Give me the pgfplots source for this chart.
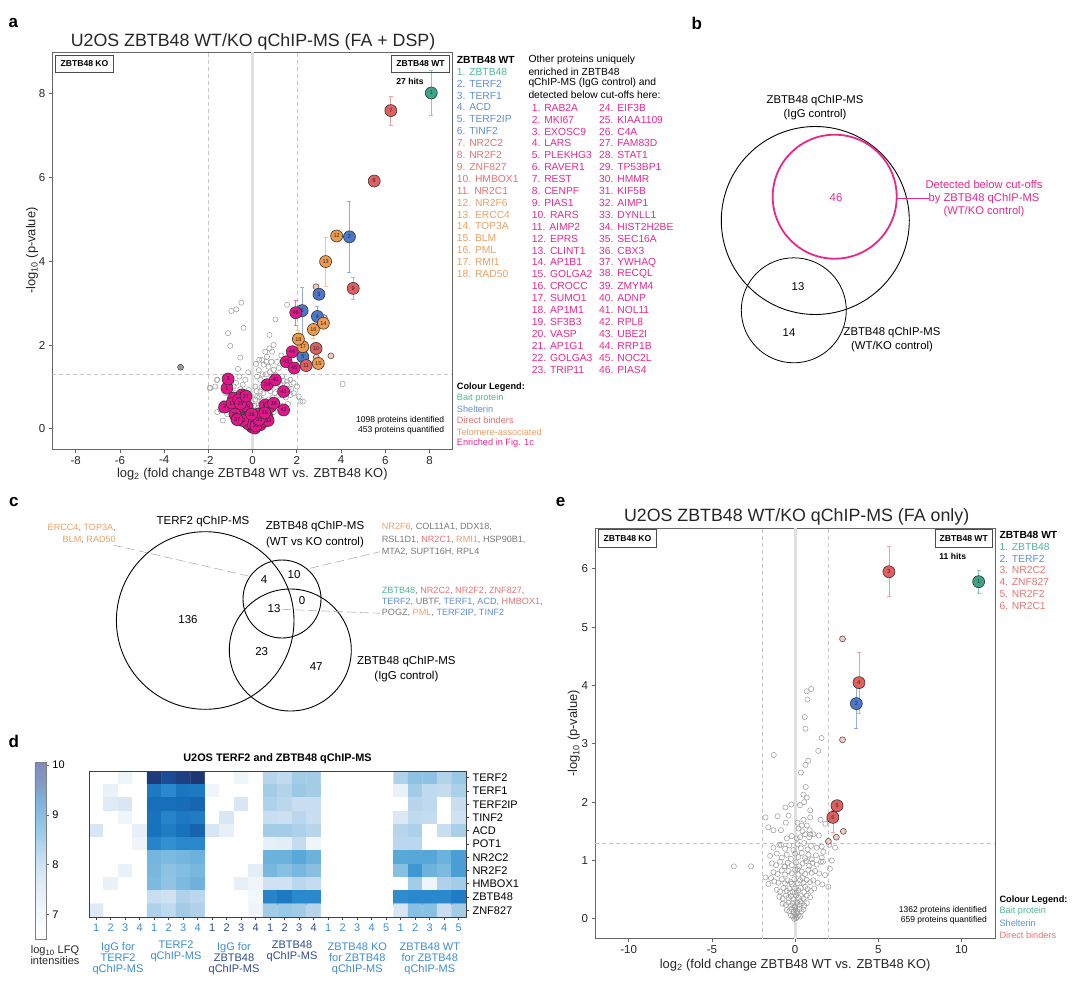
\documentclass[border=0pt]{standalone}
\usepackage{pgfplots}
\pgfplotsset{compat=1.18}
\usepackage{fontspec}
\setmainfont{Liberation Sans}
\definecolor{cgreen}{RGB}{60,165,135}
\definecolor{cblue}{RGB}{75,120,200}
\definecolor{cred}{RGB}{225,95,95}
\definecolor{corange}{RGB}{240,155,75}
\definecolor{cmag}{RGB}{230,20,140}
\definecolor{cpink}{RGB}{245,200,195}
\definecolor{tgreen}{RGB}{75,185,150}
\definecolor{tblue}{RGB}{95,140,215}
\definecolor{tred}{RGB}{230,115,115}
\definecolor{torange}{RGB}{235,160,100}
\definecolor{tmag}{RGB}{230,40,140}
\definecolor{tgrey}{RGB}{120,120,120}
\definecolor{hblue}{RGB}{60,140,210}
\definecolor{hnavy}{RGB}{45,75,140}
\newcommand\fs[1]{\fontsize{#1}{#1}\selectfont}
\pgfplotsset{
  colormap={hm}{rgb255(0pt)=(255,255,255) rgb255(10pt)=(255,255,255) rgb255(50pt)=(234,242,249) rgb255(90pt)=(211,228,243) rgb255(130pt)=(184,213,236) rgb255(160pt)=(152,200,229) rgb255(190pt)=(110,179,221) rgb255(220pt)=(70,158,212) rgb255(250pt)=(42,136,204) rgb255(280pt)=(22,114,189) rgb255(310pt)=(28,77,150) rgb255(350pt)=(31,48,104) rgb255(355pt)=(31,46,100)},
  colormap={hmlight}{rgb255(0pt)=(255,255,255) rgb255(10pt)=(255,255,255) rgb255(50pt)=(243,248,252) rgb255(90pt)=(231,240,248) rgb255(130pt)=(216,232,245) rgb255(160pt)=(198,225,243) rgb255(190pt)=(175,213,237) rgb255(220pt)=(153,202,232) rgb255(250pt)=(138,190,227) rgb255(280pt)=(127,178,219) rgb255(310pt)=(130,157,197) rgb255(350pt)=(128,140,192) rgb255(355pt)=(126,138,190)},
  volc/.style={scale only axis, anchor=north west,
    axis line style={black!60, line width=0.9pt},
    tick align=outside, xtick pos=lower, ytick pos=left,
    major tick length=3.5pt, tick style={black!60, line width=0.8pt},
    tick label style={font=\fs{11.5}, text=black!85},
    label style={font=\fs{12.9}, text=black!85},
    /pgf/number format/assume math mode=true},
  big/.style={only marks, mark=*, mark size=6pt,
    mark options={fill=#1, draw=black!80, line width=0.6pt},
    point meta=explicit symbolic,
    nodes near coords, nodes near coords align=center,
    every node near coord/.append style={font=\fs{5.5}, text=black!85, inner sep=0pt},
    error bars/y dir=both, error bars/y explicit,
    error bars/error bar style={color=#1!60, line width=0.7pt},
    error bars/error mark options={rotate=90, mark size=2pt, color=#1!60, line width=0.7pt}},
  hollow/.style={only marks, mark=o, mark size=2.6pt, mark options={draw=black!40, line width=0.5pt}},
  smallp/.style={only marks, mark=*, mark size=3pt, mark options={fill=cpink, draw=black!75, line width=0.5pt}},
  guide/.style={draw=black!22, line width=0.6pt, dash pattern=on 4pt off 3pt, forget plot},
}
\begin{document}
\begin{tikzpicture}
\useasboundingbox (0,0) rectangle (1080pt,-988pt);

% ================= panel a =================
\node[font=\bfseries\fs{17}] at (13.3pt,-22.7pt) {a};
\node[font=\fs{17.8}, text=black!85] at (253pt,-41.7pt) {U2OS ZBTB48 WT/KO qChIP-MS (FA + DSP)};
\begin{axis}[volc, at={(52.3pt,-52.3pt)}, width=400pt, height=396.7pt,
  xmin=-9.06, xmax=9.03, ymin=-0.48, ymax=8.98,
  xtick={-8,-6,-4,-2,0,2,4,6,8}, ytick={0,2,4,6,8},
  ylabel shift=-6pt, xlabel shift=-3pt,
  xlabel={log\textsubscript{2} (fold change ZBTB48 WT vs. ZBTB48 KO)},
  ylabel={-log\textsubscript{10} (p-value)}]
\addplot[draw=black!12, line width=3pt, forget plot] coordinates {(0,-0.48) (0,8.98)};
\addplot[guide] coordinates {(-2,-0.48) (-2,8.98)};
\addplot[guide] coordinates {(2,-0.48) (2,8.98)};
\addplot[guide] coordinates {(-9.06,1.3) (9.03,1.3)};
\addplot[hollow] coordinates {(-0.51,3.01) (-0.74,2.85) (-0.96,2.81) (-0.41,2.41) (-1.11,2.28) (-1.01,1.98) (-0.56,1.70) (-0.66,1.43) (0.76,2.24) (1.56,2.96) (1.03,2.61) (0.76,1.92) (0.95,2.00) (0.88,1.84) (0.57,1.84) (0.65,1.72) (0.43,1.64) (0.50,1.53) (0.72,1.48) (0.95,1.41) (1.18,1.45) (1.03,1.29) (0.88,1.17) (0.35,1.17) (0.20,1.25) (0.12,1.01) (0.35,0.89) (0.20,0.77) (0.43,0.69) (0.27,0.57) (0.12,0.41) (-0.03,0.61) (-0.10,0.77) (-0.18,0.93) (-0.33,1.17) (-0.86,1.01) (-1.61,1.17) (-1.69,1.01) (-1.91,0.97) (1.71,0.81) (1.86,0.85) (2.08,0.77) (2.16,0.65) (1.63,0.97) (1.56,1.13) (1.33,1.25) (2.01,1.01) (1.71,1.17) (4.07,1.07) (2.27,0.65) (-1.94,0.98) (-1.60,1.17)
(-1.45,0.45) (-1.30,0.62) (-1.15,0.35) (-1.00,0.55) (-0.90,0.25) (-0.85,0.45) (-0.80,0.85) (-0.70,0.60) (-0.65,0.20) (-0.60,0.50) (-0.55,0.95) (-0.50,0.35) (-0.45,0.65) (-0.40,0.15) (-0.38,0.45) (-0.35,0.80) (-0.30,0.30) (-0.28,0.60) (-0.25,0.10) (-0.22,0.40) (-0.20,0.70) (-0.18,0.20) (-0.15,0.50) (-0.12,0.05) (-0.10,0.35) (-0.08,0.12) (-0.05,0.28) (-0.03,0.45) (0.00,0.02) (0.02,0.18) (0.04,0.32) (0.06,0.55) (0.08,0.08) (0.10,0.25) (0.12,0.70) (0.14,0.15) (0.16,0.42) (0.18,0.90) (0.20,0.30) (0.22,0.06) (0.25,0.50) (0.28,0.20) (0.30,0.75) (0.32,0.38) (0.35,0.12) (0.38,0.60) (0.40,1.00) (0.42,0.25) (0.45,0.45) (0.48,0.85) (0.50,0.15) (0.52,1.10) (0.55,0.35) (0.58,0.65) (0.60,1.30) (0.62,0.25) (0.65,0.95) (0.68,0.48) (0.70,1.15) (0.72,0.70) (0.75,0.35) (0.78,1.35) (0.80,0.90) (0.82,0.55) (0.85,1.25) (0.90,0.75) (0.92,1.05) (0.95,0.40) (1.00,0.85) (1.05,1.00) (1.10,0.65) (1.15,1.15) (1.20,0.80) (1.25,1.05) (1.30,0.55) (1.40,1.15) (1.50,0.75) (1.55,1.05) (1.60,0.60) (1.75,0.95) (1.85,1.10) (-0.95,0.75) (-1.20,0.85) (-0.75,1.10) (-0.60,1.25) (-0.45,1.05) (0.28,1.40) (0.45,1.30) (0.15,1.55) (0.30,1.65) (0.62,1.60) (0.85,1.60) (1.10,1.60) (1.30,1.75) (-0.20,1.35) (-1.35,0.20) (-1.60,0.40)};
\addplot[only marks, mark=*, mark size=3pt, mark options={fill=black!40, draw=black!75, line width=0.5pt}] coordinates {(-3.26,1.47)};
\addplot[smallp] coordinates {(2.87,3.39) (3.24,2.65) (3.54,1.74) (2.88,1.71) (2.20,1.66)};
\addplot[big=cblue] table[x=x, y=y, y error plus=ep, y error minus=em, meta=l] {
x y ep em l
4.38 4.58 0.85 0.85 2
3.00 3.21 0.08 0.08 3
2.93 2.68 0.25 0.25 4
2.27 1.72 0.10 0.10 5
2.24 2.82 0.56 0.94 6
};
\addplot[big=cred] table[x=x, y=y, y error plus=ep, y error minus=em, meta=l] {
x y ep em l
6.25 7.59 0.34 0.35 7
5.50 5.91 0.05 0.05 8
4.55 3.35 0.26 0.25 9
2.87 1.92 0.08 0.08 10
2.42 1.51 0.08 0.08 11
};
\addplot[big=corange] table[x=x, y=y, y error plus=ep, y error minus=em, meta=l] {
x y ep em l
3.80 4.60 0.08 0.08 12
3.30 3.99 0.58 0.58 13
3.20 2.52 0.10 0.10 14
2.97 1.56 0.08 0.08 15
2.75 2.37 0.05 0.22 16
2.27 1.96 0.10 0.10 17
2.07 2.14 0.20 0.20 18
};
\addplot[big=cgreen] table[x=x, y=y, y error plus=ep, y error minus=em, meta=l] {
x y ep em l
8.08 8.01 0.54 0.53 1
};
\addplot[big=cmag] table[x=x, y=y, y error plus=ep, y error minus=em, meta=l] {
x y ep em l
-1.16 0.97 0 0 1
-1.27 0.52 0 0 2
-1.11 1.19 0.10 0.10 3
-0.86 0.73 0 0 4
-0.71 0.41 0 0 5
-0.56 0.29 0 0 6
-0.33 0.37 0 0 7
-0.10 0.21 0 0 8
-0.03 0.05 0 0 9
-0.48 0.81 0.05 0.05 10
0.20 0.17 0 0 11
0.43 0.29 0 0 12
0.65 0.29 0 0 13
0.57 0.57 0 0 14
0.80 0.53 0 0 15
0.35 0.10 0 0 16
-0.93 0.61 0 0 17
-0.41 0.53 0 0 18
-0.25 0.53 0 0 19
-0.63 0.69 0 0 20
-0.20 0.12 0 0 21
0.05 0.25 0 0 22
0.10 0.02 0 0 23
-0.15 0.30 0 0 24
-0.55 0.60 0 0 25
0.25 0.35 0 0 26
-0.30 0.78 0 0 27
0.48 0.18 0 0 28
-0.80 0.35 0 0 29
0.00 0.12 0 0 30
0.15 0.07 0 0 31
-0.45 0.20 0 0 32
0.70 0.20 0 0 33
0.65 1.05 0 0 34
0.30 0.22 0 0 35
-0.05 0.35 0 0 36
-0.70 0.22 0 0 37
0.55 0.38 0 0 38
0.95 0.61 0 0 39
1.03 1.17 0.05 0.05 40
1.40 0.89 0 0 41
1.40 0.45 0 0 42
1.52 1.60 0.10 0.12 43
1.79 1.84 0.10 0.10 44
1.88 1.45 0.10 0.10 45
1.95 2.77 0.30 0.30 46
};
\end{axis}
\node[draw=black!70, line width=0.8pt, font=\bfseries\fs{8.6}, minimum width=57.6pt, minimum height=17.3pt, inner sep=0pt] at (84.5pt,-63.7pt) {ZBTB48 KO};
\node[draw=black!70, line width=0.8pt, font=\bfseries\fs{8.6}, minimum width=57.6pt, minimum height=17.3pt, inner sep=0pt] at (420.5pt,-63.7pt) {ZBTB48 WT};
\node[font=\bfseries\fs{8.6}] at (410pt,-81.7pt) {27 hits};
\node[anchor=east, font=\fs{8.5}, inner sep=0pt] at (444.3pt,-420.7pt) {1098 proteins identified};
\node[anchor=east, font=\fs{8.5}, inner sep=0pt] at (444.3pt,-430.7pt) {453 proteins quantified};
% legend a
\node[anchor=west, inner sep=0pt, font=\bfseries\fs{10.3}] at (456.7pt,-60pt) {ZBTB48 WT};
\foreach \t/\c [count=\i] in {ZBTB48/tgreen, TERF2/tblue, TERF1/tblue, ACD/tblue, TERF2IP/tblue, TINF2/tblue, NR2C2/tred, NR2F2/tred, ZNF827/tred, HMBOX1/tred, NR2C1/tred, NR2F6/torange, ERCC4/torange, TOP3A/torange, BLM/torange, PML/torange, RMI1/torange, RAD50/torange}
  \node[anchor=west, inner sep=0pt, text=\c, font=\fs{10.3}] at (456.7pt,{-71.7pt-11.9pt*(\i-1)}) {\i. \t};
\node[anchor=west, inner sep=0pt, font=\fs{10.3}] at (528.3pt,-60pt) {Other proteins uniquely};
\node[anchor=west, inner sep=0pt, font=\fs{10.3}] at (528.3pt,-71.7pt) {enriched in ZBTB48};
\node[anchor=west, inner sep=0pt, font=\fs{10.3}] at (528.3pt,-83.3pt) {qChIP-MS (IgG control) and};
\node[anchor=west, inner sep=0pt, font=\fs{10.3}] at (528.3pt,-95pt) {detected below cut-offs here:};
\foreach \t [count=\i] in {RAB2A, MKI67, EXOSC9, LARS, PLEKHG3, RAVER1, REST, CENPF, PIAS1, RARS, AIMP2, EPRS, CLINT1, AP1B1, GOLGA2, CROCC, SUMO1, AP1M1, SF3B3, VASP, AP1G1, GOLGA3, TRIP11}
  \node[anchor=west, inner sep=0pt, text=tmag, font=\fs{10.3}] at (531.7pt,{-107.7pt-11.9pt*(\i-1)}) {\i. \t};
\foreach \t [count=\i from 24] in {EIF3B, KIAA1109, C4A, FAM83D, STAT1, TP53BP1, HMMR, KIF5B, AIMP1, DYNLL1, HIST2H2BE, SEC16A, CBX3, YWHAQ, RECQL, ZMYM4, ADNP, NOL11, RPL8, UBE2I, RRP1B, NOC2L, PIAS4}
  \node[anchor=west, inner sep=0pt, text=tmag, font=\fs{10.3}] at (599pt,{-107.7pt-11.9pt*(\i-24)}) {\i. \t};
\node[anchor=west, inner sep=0pt, font=\bfseries\fs{9.2}] at (456.7pt,-386.7pt) {Colour Legend:};
\foreach \t/\c [count=\i] in {Bait protein/tgreen, Shelterin/tblue, Direct binders/tred, Telomere-associated/torange, Enriched in Fig. 1c/tmag}
  \node[anchor=west, inner sep=0pt, text=\c, font=\fs{9.2}] at (456.7pt,{-386.7pt-11.3pt*\i}) {\t};

% ================= panel b =================
\node[font=\bfseries\fs{17}] at (696.7pt,-23.3pt) {b};
\draw[black, line width=0.9pt] (815.3pt,-220.5pt) circle (94pt);
\draw[tmag, line width=1.8pt] (834.7pt,-196.7pt) circle (62pt);
\draw[black, line width=0.8pt] (793.8pt,-310.3pt) circle (52.5pt);
\draw[tmag, line width=0.9pt] (896.7pt,-198.3pt) -- (929.3pt,-198.3pt);
\node[font=\fs{11.3}] at (815pt,-100.7pt) {ZBTB48 qChIP-MS};
\node[font=\fs{11.3}] at (815pt,-115pt) {(IgG control)};
\node[font=\fs{11.3}, text=tmag] at (836pt,-197.7pt) {46};
\node[font=\fs{11.3}] at (798pt,-287pt) {13};
\node[font=\fs{11.3}] at (789pt,-333pt) {14};
\node[font=\fs{11.3}] at (892pt,-333pt) {ZBTB48 qChIP-MS};
\node[font=\fs{11.3}] at (892pt,-347pt) {(WT/KO control)};
\node[font=\fs{11.2}, text=tmag] at (984pt,-184.3pt) {Detected below cut-offs};
\node[font=\fs{11.2}, text=tmag] at (984pt,-198.3pt) {by ZBTB48 qChIP-MS};
\node[font=\fs{11.2}, text=tmag] at (984pt,-211.7pt) {(WT/KO control)};

% ================= panel c =================
\node[font=\bfseries\fs{17}] at (13.8pt,-502.4pt) {c};
\draw[black, line width=0.9pt] (205.2pt,-620.5pt) circle (88.8pt);
\draw[black, line width=0.9pt] (282pt,-599pt) circle (39pt);
\draw[black, line width=0.9pt] (290.3pt,-650pt) circle (61pt);
\draw[black!30, line width=0.6pt, dash pattern=on 9pt off 4pt] (113pt,-545pt) -- (253pt,-577pt);
\draw[black!30, line width=0.6pt, dash pattern=on 9pt off 4pt] (310pt,-568.3pt) -- (380pt,-551.7pt);
\draw[black!30, line width=0.6pt, dash pattern=on 9pt off 4pt] (282pt,-609.3pt) -- (380pt,-613.3pt);
\node[font=\fs{11.5}] at (203pt,-522pt) {TERF2 qChIP-MS};
\node[font=\fs{11.5}] at (315pt,-527pt) {ZBTB48 qChIP-MS};
\node[font=\fs{11.5}] at (315pt,-542.5pt) {(WT vs KO control)};
\node[font=\fs{11.5}] at (406.4pt,-662pt) {ZBTB48 qChIP-MS};
\node[font=\fs{11.5}] at (406.4pt,-677pt) {(IgG control)};
\node[font=\fs{11.5}] at (264pt,-580pt) {4};
\node[font=\fs{11.5}] at (294pt,-575pt) {10};
\node[font=\fs{11.5}] at (302pt,-601pt) {0};
\node[font=\fs{11.5}] at (274pt,-609pt) {13};
\node[font=\fs{11.5}] at (188pt,-620pt) {136};
\node[font=\fs{11.5}] at (261.7pt,-652pt) {23};
\node[font=\fs{11.5}] at (316.2pt,-667pt) {47};
\node[anchor=east, inner sep=0pt, font=\fs{9.1}, text=tgrey] at (116pt,-527.5pt) {\textcolor{torange}{ERCC4}, \textcolor{torange}{TOP3A},};
\node[anchor=east, inner sep=0pt, font=\fs{9.1}, text=tgrey] at (116pt,-539.5pt) {\textcolor{torange}{BLM}, \textcolor{torange}{RAD50}};
\node[anchor=west, inner sep=0pt, font=\fs{9.1}, text=tgrey] at (381.7pt,-527pt) {\textcolor{torange}{NR2F6}, COL11A1, DDX18,};
\node[anchor=west, inner sep=0pt, font=\fs{9.1}, text=tgrey] at (381.7pt,-539.5pt) {RSL1D1, \textcolor{tred}{NR2C1}, \textcolor{torange}{RMI1}, HSP90B1,};
\node[anchor=west, inner sep=0pt, font=\fs{9.1}, text=tgrey] at (381.7pt,-552pt) {MTA2, SUPT16H, RPL4};
\node[anchor=west, inner sep=0pt, font=\fs{9.1}, text=tgrey] at (381.7pt,-590.7pt) {\textcolor{tgreen}{ZBTB48}, \textcolor{tred}{NR2C2}, \textcolor{tred}{NR2F2}, \textcolor{tred}{ZNF827},};
\node[anchor=west, inner sep=0pt, font=\fs{9.1}, text=tgrey] at (381.7pt,-602pt) {\textcolor{tblue}{TERF2}, UBTF, \textcolor{tblue}{TERF1}, \textcolor{tblue}{ACD}, \textcolor{tred}{HMBOX1},};
\node[anchor=west, inner sep=0pt, font=\fs{9.1}, text=tgrey] at (381.7pt,-613.3pt) {POGZ, \textcolor{torange}{PML}, \textcolor{tblue}{TERF2IP}, \textcolor{tblue}{TINF2}};

% ================= panel d =================
\node[font=\bfseries\fs{17}] at (13.8pt,-741pt) {d};
\node[font=\bfseries\fs{10.9}] at (277.5pt,-759pt) {U2OS TERF2 and ZBTB48 qChIP-MS};
\begin{axis}[at={(89pt,-771pt)}, anchor=north west, scale only axis, width=377pt, height=146pt,
  xmin=0.5, xmax=26.5, ymin=0.5, ymax=11.5, y dir=reverse, axis on top,
  axis line style={black!75, line width=1pt},
  tick align=outside, major tick length=3pt, tick style={black!75, line width=0.7pt},
  xtick={1,...,26}, xtick pos=lower,
  xticklabels={1,2,3,4,1,2,3,4,{\color{hnavy}1},{\color{hnavy}2},{\color{hnavy}3},{\color{hnavy}4},{\color{hnavy}1},{\color{hnavy}2},{\color{hnavy}3},{\color{hnavy}4},1,2,3,4,5,1,2,3,4,5},
  x tick label style={font=\fs{11}, text=hblue},
  ytick={1,...,11}, ytick pos=right, yticklabel pos=right,
  yticklabels={TERF2,TERF1,TERF2IP,TINF2,ACD,POT1,NR2C2,NR2F2,HMBOX1,ZBTB48,ZNF827},
  y tick label style={font=\fs{11}},
  colormap name=hm, point meta min=6.5, point meta max=10.05,
  colorbar left,
  colorbar style={at={(parent axis.north west)}, anchor=north east, xshift=-34.5pt, yshift=8.3pt,
    width=11pt, height=176.6pt, ytick={7,8,9,10}, ytick pos=right, yticklabel pos=right,
    tick align=outside, major tick length=3pt, tick style={black!60, line width=0.7pt},
    y tick label style={font=\fs{11}}, axis line style={black!50, line width=0.7pt},
    colormap name=hmlight, /pgf/number format/assume math mode=true}]
\addplot[matrix plot*, mesh/cols=26, point meta=explicit] coordinates {
(1,1)[6.5] (2,1)[6.5] (3,1)[6.95] (4,1)[6.5] (5,1)[9.85] (6,1)[9.62] (7,1)[9.78] (8,1)[9.92] (9,1)[6.5] (10,1)[6.5] (11,1)[6.95] (12,1)[6.5] (13,1)[7.8] (14,1)[7.65] (15,1)[8.0] (16,1)[8.0] (17,1)[6.5] (18,1)[6.5] (19,1)[6.5] (20,1)[6.5] (21,1)[6.5] (22,1)[7.88] (23,1)[8.18] (24,1)[8.18] (25,1)[7.85] (26,1)[8.08]
(1,2)[6.5] (2,2)[7.0] (3,2)[6.5] (4,2)[6.5] (5,2)[9.2] (6,2)[9.0] (7,2)[9.25] (8,2)[9.2] (9,2)[6.9] (10,2)[6.5] (11,2)[6.5] (12,2)[6.5] (13,2)[8.0] (14,2)[7.85] (15,2)[8.08] (16,2)[8.0] (17,2)[6.5] (18,2)[6.5] (19,2)[6.5] (20,2)[6.5] (21,2)[6.5] (22,2)[7.0] (23,2)[8.02] (24,2)[7.7] (25,2)[7.6] (26,2)[7.92]
(1,3)[6.5] (2,3)[7.2] (3,3)[7.3] (4,3)[6.5] (5,3)[9.33] (6,3)[9.33] (7,3)[9.35] (8,3)[9.4] (9,3)[6.5] (10,3)[6.5] (11,3)[7.3] (12,3)[6.5] (13,3)[7.88] (14,3)[7.75] (15,3)[7.55] (16,3)[7.55] (17,3)[6.5] (18,3)[6.5] (19,3)[6.5] (20,3)[6.5] (21,3)[6.5] (22,3)[6.5] (23,3)[7.8] (24,3)[7.7] (25,3)[6.5] (26,3)[7.55]
(1,4)[6.5] (2,4)[6.5] (3,4)[6.9] (4,4)[6.5] (5,4)[9.28] (6,4)[9.05] (7,4)[9.2] (8,4)[9.15] (9,4)[6.5] (10,4)[7.3] (11,4)[6.5] (12,4)[6.5] (13,4)[7.55] (14,4)[7.5] (15,4)[7.75] (16,4)[7.55] (17,4)[6.5] (18,4)[6.5] (19,4)[6.5] (20,4)[6.5] (21,4)[6.5] (22,4)[7.25] (23,4)[7.7] (24,4)[7.62] (25,4)[6.5] (26,4)[7.45]
(1,5)[7.35] (2,5)[6.5] (3,5)[6.5] (4,5)[7.05] (5,5)[9.28] (6,5)[9.15] (7,5)[9.3] (8,5)[9.42] (9,5)[7.35] (10,5)[7.05] (11,5)[6.5] (12,5)[6.5] (13,5)[8.0] (14,5)[8.0] (15,5)[7.9] (16,5)[7.8] (17,5)[6.5] (18,5)[6.5] (19,5)[6.5] (20,5)[6.5] (21,5)[6.5] (22,5)[7.8] (23,5)[7.92] (24,5)[6.5] (25,5)[7.55] (26,5)[7.95]
(1,6)[6.5] (2,6)[6.5] (3,6)[6.5] (4,6)[6.9] (5,6)[9.05] (6,6)[8.9] (7,6)[9.02] (8,6)[9.02] (9,6)[6.5] (10,6)[6.5] (11,6)[6.5] (12,6)[6.5] (13,6)[7.05] (14,6)[7.1] (15,6)[7.6] (16,6)[6.9] (17,6)[6.5] (18,6)[6.5] (19,6)[6.5] (20,6)[6.5] (21,6)[6.5] (22,6)[7.75] (23,6)[7.75] (24,6)[6.5] (25,6)[6.5] (26,6)[6.5]
(1,7)[6.5] (2,7)[6.5] (3,7)[6.5] (4,7)[6.5] (5,7)[8.36] (6,7)[8.3] (7,7)[8.36] (8,7)[8.42] (9,7)[6.5] (10,7)[6.5] (11,7)[6.5] (12,7)[6.5] (13,7)[8.42] (14,7)[8.42] (15,7)[8.55] (16,7)[8.42] (17,7)[6.5] (18,7)[6.5] (19,7)[6.5] (20,7)[6.5] (21,7)[6.5] (22,7)[8.55] (23,7)[8.58] (24,7)[8.58] (25,7)[8.42] (26,7)[8.68]
(1,8)[6.5] (2,8)[6.5] (3,8)[7.0] (4,8)[6.5] (5,8)[8.33] (6,8)[8.18] (7,8)[8.25] (8,8)[8.33] (9,8)[6.5] (10,8)[6.5] (11,8)[6.5] (12,8)[7.1] (13,8)[8.33] (14,8)[8.22] (15,8)[8.33] (16,8)[8.22] (17,8)[6.5] (18,8)[6.5] (19,8)[6.5] (20,8)[6.5] (21,8)[6.5] (22,8)[8.22] (23,8)[8.78] (24,8)[8.4] (25,8)[8.3] (26,8)[8.68]
(1,9)[6.5] (2,9)[7.0] (3,9)[6.5] (4,9)[6.5] (5,9)[8.3] (6,9)[8.15] (7,9)[8.3] (8,9)[8.4] (9,9)[6.5] (10,9)[6.5] (11,9)[7.05] (12,9)[6.9] (13,9)[7.45] (14,9)[7.45] (15,9)[7.75] (16,9)[7.6] (17,9)[6.5] (18,9)[6.5] (19,9)[6.5] (20,9)[6.5] (21,9)[6.5] (22,9)[6.5] (23,9)[8.0] (24,9)[6.9] (25,9)[7.88] (26,9)[8.0]
(1,10)[6.5] (2,10)[6.5] (3,10)[6.5] (4,10)[6.5] (5,10)[7.55] (6,10)[7.45] (7,10)[7.88] (8,10)[7.75] (9,10)[6.5] (10,10)[6.5] (11,10)[6.5] (12,10)[6.85] (13,10)[9.05] (14,10)[9.2] (15,10)[9.0] (16,10)[9.0] (17,10)[6.5] (18,10)[6.5] (19,10)[6.5] (20,10)[6.5] (21,10)[6.5] (22,10)[8.95] (23,10)[9.0] (24,10)[9.0] (25,10)[9.0] (26,10)[9.15]
(1,11)[7.2] (2,11)[6.5] (3,11)[6.5] (4,11)[6.5] (5,11)[7.88] (6,11)[7.7] (7,11)[8.02] (8,11)[7.88] (9,11)[6.5] (10,11)[6.5] (11,11)[6.5] (12,11)[6.9] (13,11)[8.02] (14,11)[8.08] (15,11)[8.02] (16,11)[7.8] (17,11)[6.5] (18,11)[6.5] (19,11)[6.5] (20,11)[6.5] (21,11)[6.5] (22,11)[7.35] (23,11)[8.22] (24,11)[8.22] (25,11)[7.55] (26,11)[8.0]
};
\end{axis}
\node[font=\fs{11}, text=hblue, align=center, inner sep=0pt] at (118pt,-958.5pt) {\fontsize{11}{13.5}\selectfont IgG for\\TERF2\\qChIP-MS};
\node[font=\fs{11}, text=hblue, align=center, inner sep=0pt] at (176pt,-951.7pt) {\fontsize{11}{13.5}\selectfont TERF2\\qChIP-MS};
\node[font=\fs{11}, text=hnavy, align=center, inner sep=0pt] at (234pt,-958.5pt) {\fontsize{11}{13.5}\selectfont \textcolor{hblue}{IgG for}\\ZBTB48\\qChIP-MS};
\node[font=\fs{11}, text=hnavy, align=center, inner sep=0pt] at (292pt,-951.7pt) {\fontsize{11}{13.5}\selectfont ZBTB48\\qChIP-MS};
\node[font=\fs{11}, text=hblue, align=center, inner sep=0pt] at (357.3pt,-958.5pt) {\fontsize{11}{13.5}\selectfont ZBTB48 KO\\for ZBTB48\\qChIP-MS};
\node[font=\fs{11}, text=hblue, align=center, inner sep=0pt] at (429.8pt,-958.5pt) {\fontsize{11}{13.5}\selectfont ZBTB48 WT\\for ZBTB48\\qChIP-MS};
\node[font=\fs{11}, text=black!85, align=center, inner sep=0pt] at (55pt,-955pt) {\fontsize{11}{13.5}\selectfont log\textsubscript{10} LFQ\\intensities};

% ================= panel e =================
\node[font=\bfseries\fs{17}] at (560.7pt,-502pt) {e};
\node[font=\fs{17.8}, text=black!85] at (796.6pt,-517pt) {U2OS ZBTB48 WT/KO qChIP-MS (FA only)};
\begin{axis}[volc, at={(595.1pt,-528pt)}, width=400pt, height=410.7pt,
  xmin=-12.02, xmax=12.02, ymin=-0.34, ymax=6.70,
  xtick={-10,-5,0,5,10}, ytick={0,1,2,3,4,5,6},
  ylabel shift=-5pt, xlabel shift=-2pt,
  xlabel={log\textsubscript{2} (fold change ZBTB48 WT vs. ZBTB48 KO)},
  ylabel={-log\textsubscript{10} (p-value)}]
\addplot[draw=black!12, line width=3pt, forget plot] coordinates {(0,-0.34) (0,6.70)};
\addplot[guide] coordinates {(-2,-0.34) (-2,6.70)};
\addplot[guide] coordinates {(2,-0.34) (2,6.70)};
\addplot[guide] coordinates {(-12.02,1.3) (12.02,1.3)};
\addplot[hollow] coordinates {(0.97,3.94) (0.70,3.90) (0.74,3.76) (0.58,3.46) (0.62,3.26) (-1.28,2.81) (1.59,3.10) (1.39,2.88) (0.79,2.71) (0.62,2.64) (0.35,2.51) (0.64,2.26) (0.50,2.13) (0.70,2.08) (0.54,2.00) (-0.23,1.96) (-0.58,1.91) (-1.05,1.76) (-1.78,1.74) (-0.39,1.77) (-0.56,1.65) (0.14,1.65) (-1.61,1.57) (-1.30,1.52) (1.53,1.70) (1.82,1.63) (1.43,1.43) (2.40,1.22) (-3.68,0.90) (-2.65,0.90) (2.21,1.00) (2.09,0.86) (1.67,0.98) (1.63,0.59) (-1.78,0.71) (0.29,1.95) (0.91,1.86) (0.91,1.74) (2.05,1.70) (-0.85,1.52) (0.87,1.52) (0.91,1.45) (-0.85,1.27) (1.60,1.24) (2.05,1.27)
(-1.30,1.22) (-0.95,1.27) (-0.60,1.20) (-0.35,1.26) (-0.10,1.18) (0.15,1.28) (0.35,1.21) (0.55,1.30) (0.75,1.19) (0.95,1.25) (1.30,1.22)
(-1.50,1.08) (-1.10,1.12) (-0.80,1.05) (-0.50,1.10) (-0.25,1.03) (0.00,1.12) (0.20,1.06) (0.40,1.13) (0.60,1.04) (0.80,1.10) (1.00,1.02) (1.25,1.09) (1.60,1.05)
(-1.40,0.95) (-1.15,0.92) (-0.90,0.98) (-0.65,0.90) (-0.45,0.96) (-0.20,0.92) (0.05,0.97) (0.25,0.90) (0.45,0.95) (0.65,0.99) (0.85,0.91) (1.05,0.96) (1.30,0.93) (1.55,0.98)
(-1.30,0.80) (-1.05,0.77) (-0.80,0.83) (-0.60,0.76) (-0.40,0.82) (-0.20,0.78) (0.00,0.84) (0.20,0.76) (0.40,0.81) (0.60,0.77) (0.80,0.84) (1.00,0.79) (1.20,0.82) (1.45,0.78)
(-1.25,0.64) (-1.00,0.62) (-0.80,0.68) (-0.60,0.61) (-0.45,0.66) (-0.25,0.63) (-0.05,0.68) (0.15,0.61) (0.30,0.66) (0.50,0.62) (0.70,0.67) (0.90,0.63) (1.10,0.66) (1.35,0.62)
(-1.10,0.50) (-0.90,0.47) (-0.70,0.53) (-0.50,0.48) (-0.35,0.52) (-0.15,0.46) (0.00,0.52) (0.20,0.49) (0.35,0.53) (0.55,0.46) (0.75,0.51) (0.95,0.48) (1.15,0.52)
(-0.95,0.38) (-0.75,0.35) (-0.55,0.40) (-0.40,0.36) (-0.25,0.39) (-0.10,0.34) (0.05,0.40) (0.20,0.36) (0.35,0.39) (0.50,0.35) (0.70,0.40) (0.90,0.37)
(-0.75,0.26) (-0.55,0.24) (-0.40,0.28) (-0.25,0.23) (-0.12,0.27) (0.00,0.22) (0.12,0.28) (0.25,0.24) (0.40,0.27) (0.55,0.23) (0.70,0.27)
(-0.50,0.15) (-0.35,0.13) (-0.22,0.17) (-0.10,0.12) (0.02,0.16) (0.14,0.12) (0.26,0.17) (0.38,0.13) (0.50,0.16)
(-0.25,0.06) (-0.12,0.04) (0.00,0.07) (0.10,0.03) (0.20,0.06) (0.30,0.04) (-0.05,0.00) (0.05,0.01)
(0.30,1.40) (0.45,1.50) (0.60,1.45) (0.40,1.60) (0.20,1.55) (0.50,1.70) (0.70,1.60) (0.10,1.38) (-0.20,1.42) (-0.50,1.38) (0.85,1.40) (1.10,1.45)
(1.80,0.75) (2.00,0.55) (1.70,1.15) (-1.60,0.60) (-1.45,0.70)
(-0.30,0.45) (0.10,0.45) (0.30,0.30) (-0.20,0.60) (0.45,0.70) (-0.60,0.90) (0.60,0.55) (0.15,0.85) (-0.05,0.20) (0.08,0.10)};
\addplot[smallp] coordinates {(2.85,4.80) (2.85,3.07) (2.90,1.50) (2.48,1.40) (2.00,1.33)};
\addplot[big=cblue] table[x=x, y=y, y error plus=ep, y error minus=em, meta=l] {
x y ep em l
3.68 3.69 0.30 0.43 2
};
\addplot[big=cred] table[x=x, y=y, y error plus=ep, y error minus=em, meta=l] {
x y ep em l
5.64 5.95 0.43 0.42 3
3.84 4.05 0.52 0.52 4
2.52 1.94 0.05 0.05 5
2.27 1.74 0.12 0.26 6
};
\addplot[big=cgreen] table[x=x, y=y, y error plus=ep, y error minus=em, meta=l] {
x y ep em l
11.03 5.78 0.20 0.20 1
};
\end{axis}
\node[draw=black!70, line width=0.8pt, font=\bfseries\fs{8.6}, minimum width=58pt, minimum height=18.4pt, inner sep=0pt] at (627.5pt,-538.5pt) {ZBTB48 KO};
\node[draw=black!70, line width=0.8pt, font=\bfseries\fs{8.6}, minimum width=57.3pt, minimum height=18.4pt, inner sep=0pt] at (963.7pt,-538.5pt) {ZBTB48 WT};
\node[font=\bfseries\fs{8.6}] at (952.7pt,-556.7pt) {11 hits};
\node[anchor=east, font=\fs{8.5}, inner sep=0pt] at (987pt,-910.2pt) {1362 proteins identified};
\node[anchor=east, font=\fs{8.5}, inner sep=0pt] at (987pt,-920.5pt) {659 proteins quantified};
\node[anchor=west, inner sep=0pt, font=\bfseries\fs{10.3}] at (999.3pt,-535pt) {ZBTB48 WT};
\foreach \t/\c [count=\i] in {ZBTB48/tgreen, TERF2/tblue, NR2C2/tred, ZNF827/tred, NR2F2/tred, NR2C1/tred}
  \node[anchor=west, inner sep=0pt, text=\c, font=\fs{10.3}] at (999.3pt,{-546.7pt-11.85pt*(\i-1)}) {\i. \t};
\node[anchor=west, inner sep=0pt, font=\bfseries\fs{9.2}] at (999.3pt,-899.8pt) {Colour Legend:};
\foreach \t/\c [count=\i] in {Bait protein/tgreen, Shelterin/tblue, Direct binders/tred}
  \node[anchor=west, inner sep=0pt, text=\c, font=\fs{9.2}] at (999.3pt,{-899.8pt-11.7pt*\i}) {\t};
\end{tikzpicture}
\end{document}
